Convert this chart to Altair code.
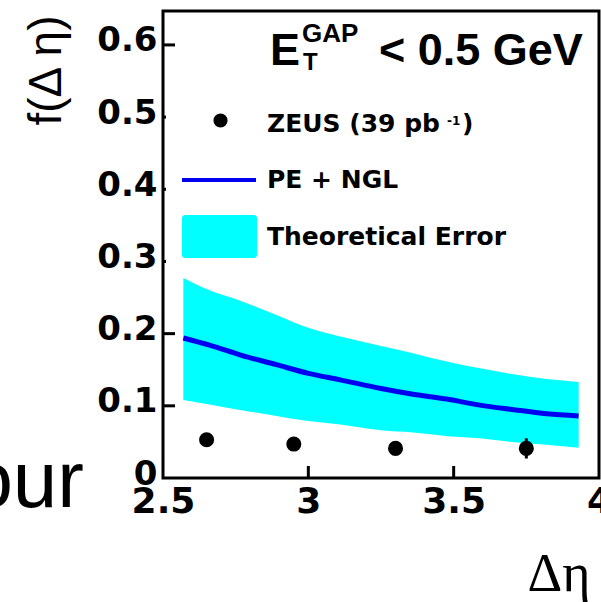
import altair as alt
import pandas as pd

# ---- theory curve (PE + NGL) and its error band ----
eta = [2.57, 2.66, 2.77, 2.89, 3.00, 3.11, 3.25, 3.36, 3.48, 3.59, 3.70, 3.82, 3.93]
pe_ngl = [0.194, 0.184, 0.170, 0.157, 0.145, 0.136, 0.124, 0.116, 0.109, 0.101, 0.095, 0.089, 0.086]
err_hi = [0.277, 0.260, 0.245, 0.226, 0.208, 0.196, 0.183, 0.173, 0.161, 0.152, 0.144, 0.137, 0.133]
err_lo = [0.108, 0.102, 0.094, 0.086, 0.079, 0.074, 0.066, 0.063, 0.058, 0.055, 0.050, 0.046, 0.042]

# ---- ZEUS data ----
zeus_x = [2.65, 2.95, 3.30, 3.75]
zeus_y = [0.053, 0.047, 0.041, 0.041]
zeus_err = [0.008, 0.008, 0.009, 0.014]

# ---- axes ----
x_ticks = [2.5, 3, 3.5, 4]
y_ticks = [0, 0.1, 0.2, 0.3, 0.4, 0.5, 0.6]
y_major_inner = [0.1, 0.2, 0.6]
y_minor_inner = [0.3, 0.4, 0.5]
x_inner = [3, 3.5]

theory = pd.DataFrame({"eta": eta, "f": pe_ngl, "hi": err_hi, "lo": err_lo})
zeus = pd.DataFrame({"x": zeus_x, "y": zeus_y})
zeus["ylo"] = [a - b for a, b in zip(zeus_y, zeus_err)]
zeus["yhi"] = [a + b for a, b in zip(zeus_y, zeus_err)]

L, T = 163, 11
W, H = 436, 467

xscale = alt.Scale(domain=[2.5, 4], nice=False, zero=False)
yscale = alt.Scale(domain=[0, 0.647], nice=False, zero=False)

xaxis = alt.Axis(
    values=x_ticks, labelExpr="format(datum.value, '.1~f')",
    ticks=False, domain=False, grid=False, labelFlush=False,
    labelFont="DejaVu Sans", labelFontWeight="bold", labelFontSize=36,
    labelColor="black", labelPadding=6,
    title="Δη", titleFont="Liberation Serif", titleFontSize=54,
    titleFontWeight="normal", titleColor="black",
    titleX=364, titleY=112, titleAlign="left", titleBaseline="alphabetic",
)
yaxis = alt.Axis(
    values=y_ticks,
    labelExpr="datum.value == 0 ? '0' : format(datum.value, '.1f')",
    ticks=False, domain=False, grid=False,
    labelFont="DejaVu Sans", labelFontWeight="bold", labelFontSize=34,
    labelColor="black", labelPadding=6, labelOffset=-4,
    title="f(Δ η)", titleFont="Liberation Sans", titleFontSize=46,
    titleFontWeight="normal", titleColor="black", titleAngle=270,
    titleX=-117, titleY=59, titleAlign="center", titleBaseline="middle",
)


def X(f):
    return alt.X(f, type="quantitative", scale=xscale, axis=xaxis)


def Y(f):
    return alt.Y(f, type="quantitative", scale=yscale, axis=yaxis)


band = alt.Chart(theory).mark_area(color="#00ffff", opacity=1, interpolate="monotone").encode(
    x=X("eta"), y=Y("hi"), y2=alt.Y2("lo")
)
line = alt.Chart(theory).mark_line(color="#0000f0", strokeWidth=5, interpolate="monotone").encode(
    x=X("eta"), y=Y("f")
)
errs = alt.Chart(zeus).mark_rule(color="black", strokeWidth=3).encode(
    x=X("x"), y=Y("ylo"), y2=alt.Y2("yhi")
)
pts = alt.Chart(zeus).mark_point(filled=True, color="black", opacity=1, size=227, shape="circle").encode(
    x=X("x"), y=Y("y")
)

# inward ticks
xt = alt.Chart(pd.DataFrame({"v": x_inner})).mark_rule(color="black", strokeWidth=3).encode(
    x=X("v"), y=alt.value(H), y2=alt.value(H - 12)
)
yt = alt.Chart(pd.DataFrame({"v": y_major_inner})).mark_rule(color="black", strokeWidth=3).encode(
    y=Y("v"), x=alt.value(0), x2=alt.value(12)
)
yt2 = alt.Chart(pd.DataFrame({"v": y_minor_inner})).mark_rule(color="black", strokeWidth=3).encode(
    y=Y("v"), x=alt.value(0), x2=alt.value(3)
)

one = pd.DataFrame({"a": [0]})


def txt(s, x, y, size, font="DejaVu Sans", weight="bold", align="left", baseline="alphabetic"):
    return alt.Chart(one).mark_text(
        text=s, font=font, fontSize=size, fontWeight=weight, align=align,
        baseline=baseline, color="black",
    ).encode(x=alt.value(x - L), y=alt.value(y - T))


legend = [
    txt("E", 270, 65, 45, font="Liberation Sans"),
    txt("GAP", 302, 42, 26, font="Liberation Sans"),
    txt("T", 303, 70, 24, font="Liberation Sans"),
    txt("< 0.5 GeV", 379, 65, 45, font="Liberation Sans"),
    alt.Chart(one).mark_point(filled=True, color="black", opacity=1, size=200, shape="circle").encode(
        x=alt.value(220.5 - L), y=alt.value(120.5 - T)
    ),
    txt("ZEUS (39 pb", 267, 132, 25),
    txt("-1", 447, 125, 12),
    txt(")", 462, 132, 25),
    alt.Chart(one).mark_rule(color="#0000f0", strokeWidth=4).encode(
        x=alt.value(182 - L), x2=alt.value(256 - L), y=alt.value(180 - T)
    ),
    txt("PE + NGL", 267, 188, 25),
    alt.Chart(one).mark_rect(color="#00ffff", opacity=1, cornerRadius=3).encode(
        x=alt.value(182 - L), x2=alt.value(257 - L), y=alt.value(215 - T), y2=alt.value(258 - T)
    ),
    txt("Theoretical Error", 267, 245, 25),
    txt("our", 84, 507, 80, font="Liberation Sans", weight="normal", align="right"),
]

chart = alt.layer(band, line, xt, yt, yt2, errs, pts, *legend).properties(
    width=W, height=H,
    background="white",
    autosize=alt.AutoSizeParams(type="none"),
    padding={"left": L, "top": T, "right": 601 - L - W, "bottom": 602 - T - H},
).configure_view(stroke="black", strokeWidth=3)

chart.save("out.html", embed_options={"renderer": "svg", "actions": False})
